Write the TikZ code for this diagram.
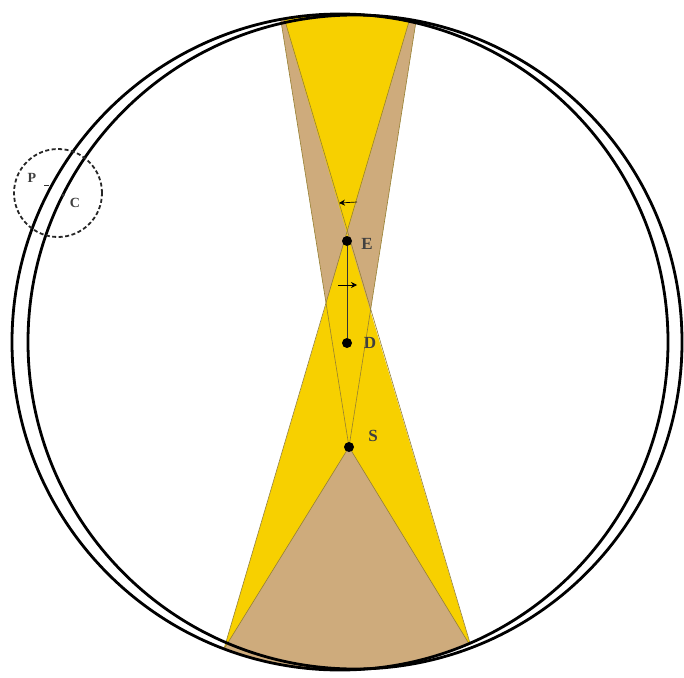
\documentclass[tikz,border=0pt]{standalone}
\usepackage{fontspec}
\setmainfont{Liberation Serif}
\usetikzlibrary{calc,arrows.meta}
\definecolor{sunyellow}{RGB}{247,208,0}
\definecolor{shadetan}{RGB}{206,171,124}
\definecolor{olive}{RGB}{150,128,50}
\tikzset{
  ring/.style={draw=black,line width=2.8pt},
  dotnode/.style={circle,fill=black,inner sep=0pt,minimum size=10pt},
  lbl/.style={font=\fontsize{17}{17}\selectfont\bfseries,text=black!75,inner sep=0pt},
  smalllbl/.style={font=\fontsize{14}{14}\selectfont\bfseries,text=black!75,inner sep=0pt},
  edge/.style={draw=olive,line width=0.6pt},
  arr/.style={draw=black,line width=0.7pt,-{Stealth[length=6pt,width=6pt]}}
}
\begin{document}
\begin{tikzpicture}[x=1pt,y=-1pt]
\useasboundingbox (0,0) rectangle (684,677);
\fill[white] (0,0) rectangle (684,677);
% key points
\coordinate (X) at (347,233);
\coordinate (TL) at (280,15);
\coordinate (TR) at (417,15);
\coordinate (YTL) at ($(X)!1.3!(283,15)$);
\coordinate (YTR) at ($(X)!1.3!(411,15)$);
\coordinate (YBL) at ($(X)!1.2!(224,649)$);
\coordinate (YBR) at ($(X)!1.2!(471,647)$);
\coordinate (Sp) at (349,447);
\coordinate (TTL) at ($(Sp)!1.1!(TL)$);
\coordinate (TTR) at ($(Sp)!1.1!(TR)$);
\coordinate (BBL) at ($(Sp)!1.2!(224,649)$);
\coordinate (BBR) at ($(Sp)!1.2!(471,647)$);
\begin{scope}
  \clip (340,342) circle (328pt);
  % upper tan cone
  \fill[shadetan] (Sp) -- (TTL) -- (TTR) -- cycle;
  % yellow double cone
  \fill[sunyellow] (X) -- (YTL) -- (YTR) -- cycle;
  \fill[sunyellow] (X) -- (YBL) -- (YBR) -- cycle;
  \draw[edge] (YTL) -- (YBR);
  \draw[edge] (YTR) -- (YBL);
  \draw[edge] (Sp) -- (TTL);
  \draw[edge] (Sp) -- (TTR);
  % lower tan cone
  \fill[shadetan] (Sp) -- (BBL) -- (BBR) -- cycle;
  \draw[edge] (Sp) -- (224,649);
  \draw[edge] (Sp) -- (471,647);
\end{scope}
% rings
\draw[ring] (340,342) circle (328pt);
\draw[ring] (355,342) circle (327pt);
% dashed small circle
\draw[black!85,line width=1.8pt,dash pattern=on 4pt off 2.5pt] (58,193) circle (44pt);
\node[smalllbl] (P) at (32,178) {P};
\node[smalllbl] (C) at (75,203) {C};
\node[circle,fill=black!80,inner sep=0pt,minimum size=3.5pt] (Cdot) at (63,195) {};
\draw[black!80,line width=0.9pt] (44,185) -- (49,185);
% points
\node[dotnode] (E) at (347,241) {};
\node[dotnode] (D) at (347,343) {};
\node[dotnode] (S) at (349,447) {};
\node[lbl] (El) at (367,244) {E};
\node[lbl] (Dl) at (370,343) {D};
\node[lbl] (Sl) at (373,436) {S};
\draw[black!80,line width=0.6pt] (E) -- (D);
% arrows
\coordinate (a1s) at (357,202);
\coordinate (a1e) at (339,203);
\draw[arr] (a1s) -- (a1e);
\coordinate (a2s) at (338,285);
\coordinate (a2e) at (357,285);
\draw[arr] (a2s) -- (a2e);
\end{tikzpicture}
\end{document}
